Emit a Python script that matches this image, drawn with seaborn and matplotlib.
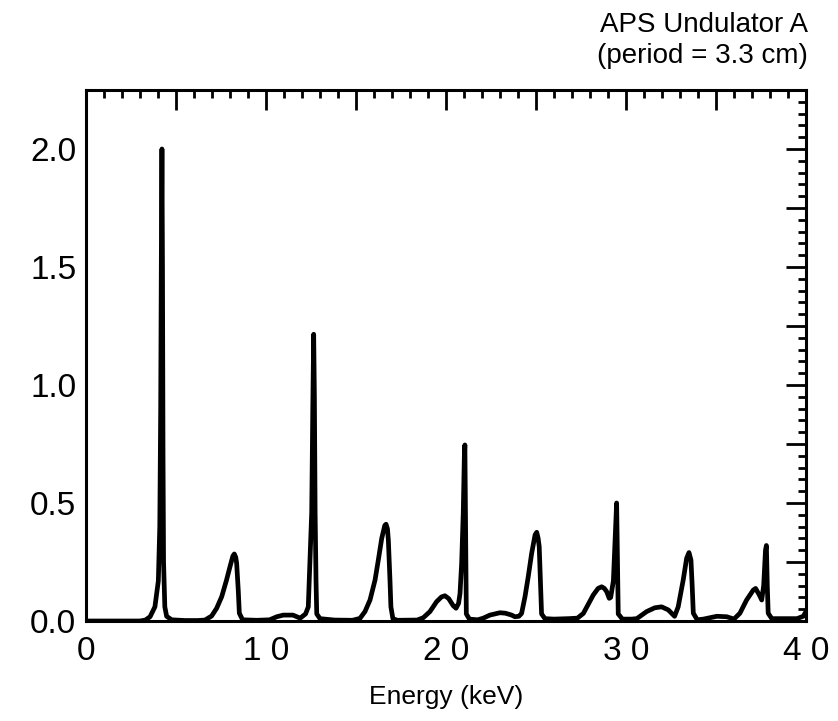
import numpy as np
import pandas as pd
import matplotlib
matplotlib.use("Agg")
import matplotlib.pyplot as plt
import seaborn as sns
from matplotlib.ticker import MultipleLocator

# spectrum: energy (keV) and flux
energy = [0.0, 3.0, 3.3, 3.56, 3.83, 4.02, 4.10, 4.15, 4.19, 4.22, 4.25, 4.28, 4.31, 4.38, 4.48, 4.76,
          5.5, 6.2, 6.61, 6.98, 7.26, 7.54, 7.81, 8.0, 8.16, 8.24, 8.32, 8.37, 8.46, 8.52, 8.7,
          9.5, 10.2, 10.6, 10.96, 11.5, 11.9, 12.2, 12.35, 12.44, 12.54, 12.6, 12.65, 12.69, 12.73,
          12.78, 12.82, 13.0, 13.8, 14.8, 15.22, 15.5, 15.78, 16.06, 16.24, 16.43, 16.6, 16.67,
          16.75, 16.8, 16.89, 16.94, 17.05, 17.3, 18.4, 18.74, 19.11, 19.48, 19.75, 19.94, 20.15,
          20.4, 20.56, 20.7, 20.78, 20.87, 20.96, 21.02, 21.05, 21.09, 21.13, 21.3, 21.76, 22.07,
          22.44, 23.0, 23.3, 23.65, 23.83, 24.05, 24.2, 24.39, 24.57, 24.76, 24.95, 25.04, 25.12,
          25.18, 25.26, 25.31, 25.5, 26.0, 26.8, 27.3, 27.63, 27.9, 28.18, 28.45, 28.65, 28.8,
          28.93, 29.07, 29.15, 29.3, 29.4, 29.48, 29.53, 29.57, 29.8, 30.3, 30.6, 31.15, 31.6,
          31.98, 32.35, 32.7, 32.9, 33.18, 33.37, 33.5, 33.61, 33.68, 33.74, 33.96, 34.3, 35.05,
          35.6, 36.0, 36.33, 36.7, 37.07, 37.2, 37.41, 37.54, 37.65, 37.75, 37.8, 37.85, 37.9,
          38.1, 39.5, 39.85, 40.0]
flux = [0.0, 0.0, 0.004, 0.018, 0.06, 0.17, 0.40, 0.90, 1.60, 2.00, 1.50, 0.70, 0.25, 0.06, 0.02, 0.005,
        0.002, 0.002, 0.004, 0.021, 0.054, 0.103, 0.174, 0.23, 0.275, 0.284, 0.27, 0.245, 0.13, 0.033, 0.005,
        0.003, 0.005, 0.018, 0.025, 0.025, 0.012, 0.03, 0.06, 0.245, 0.46, 0.9, 1.215, 0.95, 0.46,
        0.17, 0.03, 0.01, 0.004, 0.003, 0.011, 0.04, 0.089, 0.174, 0.258, 0.35, 0.405, 0.41,
        0.39, 0.34, 0.17, 0.06, 0.01, 0.003, 0.004, 0.014, 0.04, 0.082, 0.102, 0.107, 0.095,
        0.065, 0.054, 0.075, 0.117, 0.244, 0.46, 0.70, 0.746, 0.40, 0.03, 0.008, 0.005, 0.012,
        0.025, 0.035, 0.033, 0.025, 0.018, 0.02, 0.032, 0.103, 0.188, 0.287, 0.365, 0.376, 0.35,
        0.315, 0.145, 0.03, 0.01, 0.008, 0.01, 0.012, 0.032, 0.07, 0.11, 0.138, 0.145, 0.138,
        0.124, 0.096, 0.10, 0.17, 0.35, 0.50, 0.25, 0.03, 0.008, 0.008, 0.01, 0.04, 0.056,
        0.06, 0.047, 0.02, 0.06, 0.174, 0.266, 0.29, 0.258, 0.145, 0.033, 0.005, 0.008, 0.02,
        0.018, 0.008, 0.033, 0.089, 0.131, 0.138, 0.11, 0.089, 0.15, 0.30, 0.32, 0.15, 0.033,
        0.01, 0.01, 0.02, 0.04]

x_ticks = [0, 10, 20, 30, 40]
x_labels = ["0", "1 0", "2 0", "3 0", "4 0"]
y_ticks = [0.0, 0.25, 0.5, 0.75, 1.0, 1.25, 1.5, 1.75, 2.0]
y_labels = ["0.0", "", "0.5", "", "1.0", "", "1.5", "", "2.0"]

df = pd.DataFrame({"Energy": energy, "Flux": flux})

sns.set_style("white")
plt.rcParams['font.family'] = ['Liberation Sans', 'DejaVu Sans']
plt.rcParams['text.color'] = 'black'
plt.rcParams['xtick.color'] = 'black'
plt.rcParams['ytick.color'] = 'black'
plt.rcParams['axes.labelcolor'] = 'black'

fig = plt.figure(figsize=(8.38, 7.21), dpi=100)
ax = fig.add_axes([0.1026, 0.1387, 0.8592, 0.7365])

sns.lineplot(data=df, x="Energy", y="Flux", ax=ax, color="black", lw=3.4,
             estimator=None, sort=False)

ax.set_xlim(0, 40)
ax.set_ylim(0, 2.25)

# ticks on all four sides, pointing inward
ax.set_xticks(np.arange(0, 41, 5))
ax.set_xticklabels([x_labels[x_ticks.index(v)] if v in x_ticks else "" for v in range(0, 41, 5)])
ax.xaxis.set_minor_locator(MultipleLocator(1))
ax.set_yticks(y_ticks)
ax.set_yticklabels(y_labels)
ax.yaxis.set_minor_locator(MultipleLocator(0.05))
ax.tick_params(which="both", direction="in", top=True, right=True, width=2.0, colors="black")
ax.tick_params(which="major", length=14.5, labelsize=24)
ax.tick_params(which="minor", length=6)
ax.tick_params(axis="y", which="major", pad=7)
ax.tick_params(axis="x", which="major", pad=11)

for s in ax.spines.values():
    s.set_linewidth(2.2)
    s.set_color("black")

ax.set_xlabel("Energy (keV)", fontsize=19, labelpad=13, color="black")
ax.set_ylabel("")

fig.text(0.964, 0.983, "APS Undulator A\n(period = 3.3 cm)", ha="right", va="top",
         fontsize=20, linespacing=1.25, color="black")

fig.savefig("out.png", dpi=100)
